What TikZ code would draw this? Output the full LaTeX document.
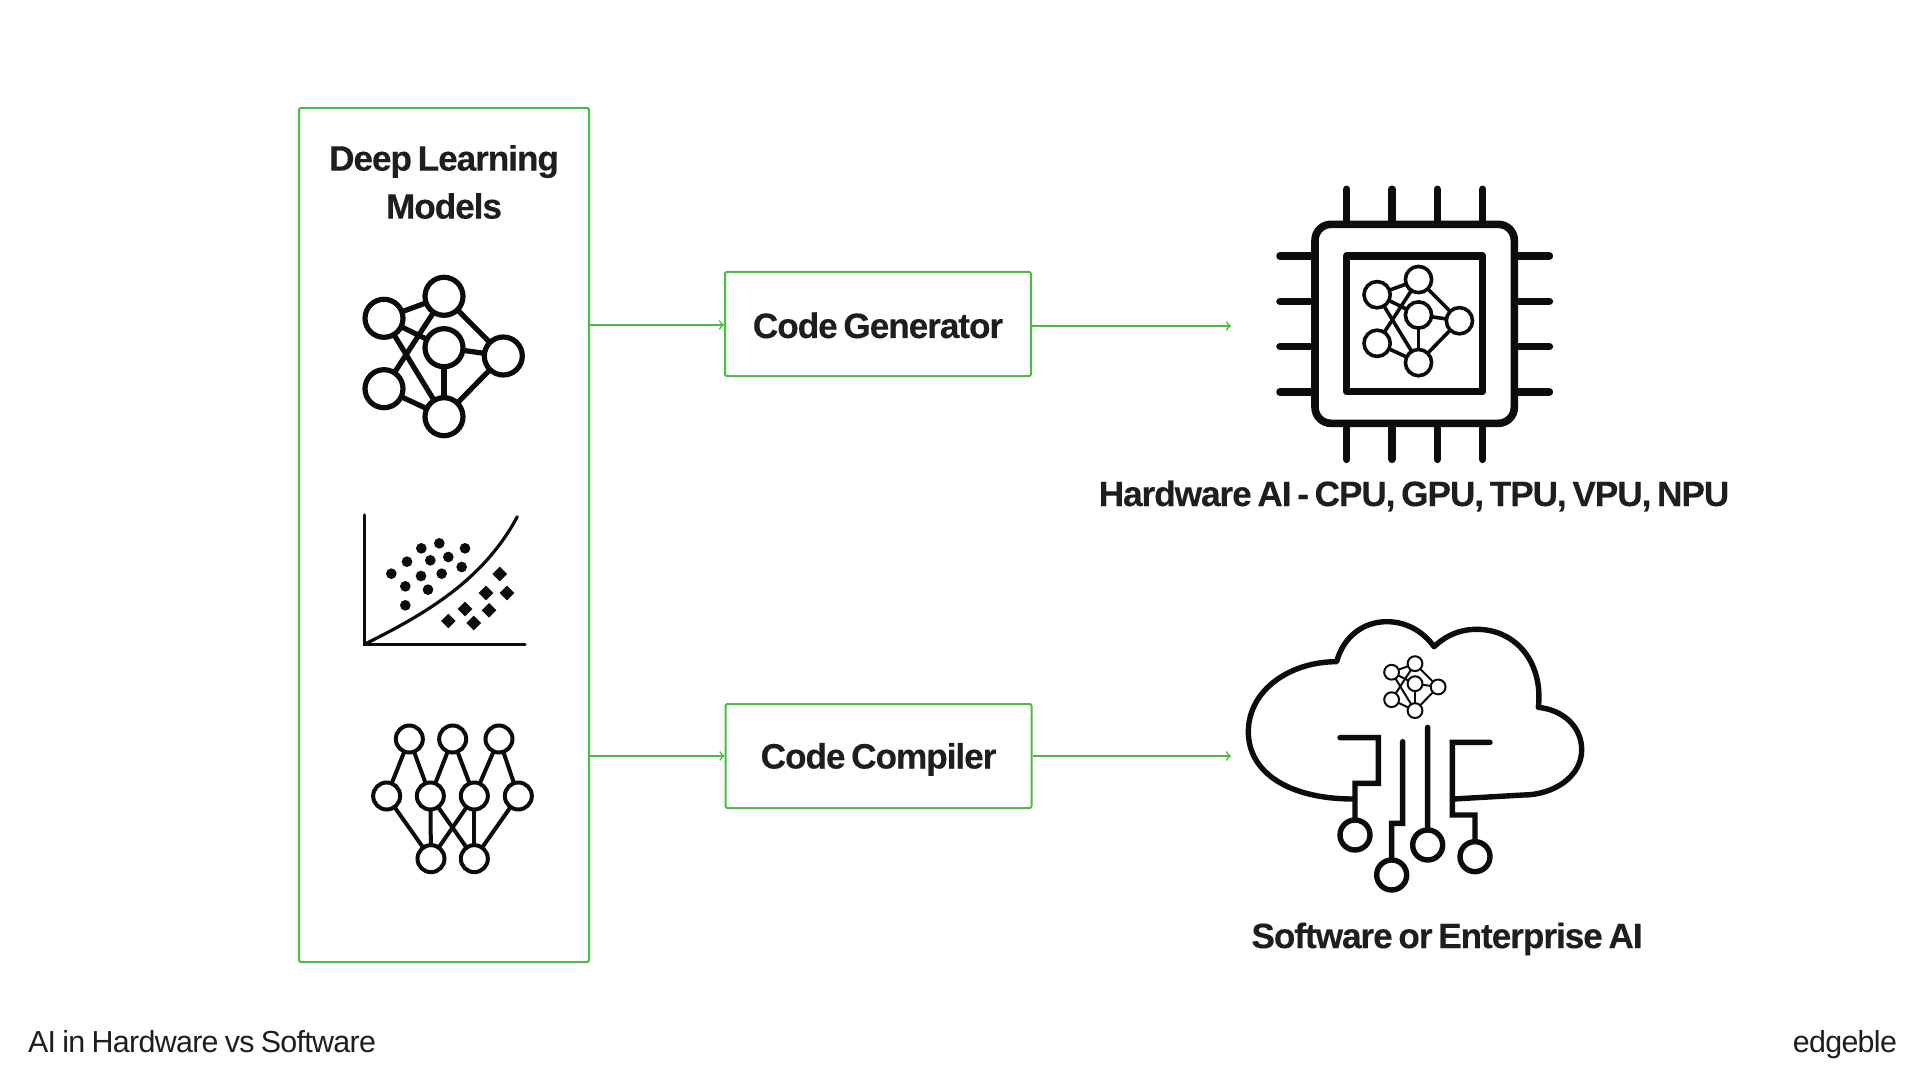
\documentclass[tikz,border=0pt]{standalone}
\usepackage{fontspec}
\setmainfont{Liberation Sans}
\newfontfamily\boldface[LetterSpace=-3, WordSpace=0.65, FakeBold=0.25]{Liberation Sans Bold}
\newfontfamily\plainface[LetterSpace=-2.2, WordSpace=0.8]{Liberation Sans}
\usepackage{xcolor}
\usetikzlibrary{calc, positioning, shapes.geometric}
\definecolor{BoxGreen}{HTML}{4CBB45}
\definecolor{InkDark}{HTML}{1E1E1E}
\definecolor{IconBlack}{HTML}{0C0C0C}

% small network of six circles, used three times
\newcommand{\NetIcon}[5]{%
  \begin{scope}[shift={(#1,#2)}, scale=#3, icon/.style={line width=#4, draw=IconBlack}, ball/.style={circle, draw=IconBlack, fill=white, line width=#4, minimum size=19pt, inner sep=0pt, transform shape}]
    \coordinate (#5la) at (-60,-29.4);
    \coordinate (#5lb) at (-60,41);
    \coordinate (#5t) at (0,-51.4);
    \coordinate (#5c) at (0,0);
    \coordinate (#5r) at (59.3,8.3);
    \coordinate (#5b) at (0,69);
    \foreach \from/\to in {la/t, la/c, la/b, t/r, t/lb, c/r, c/b, r/b, lb/b}
      \draw[icon] (#5\from) -- (#5\to);
    \foreach \n in {la, lb, t, c, r, b}
      \node[ball] (#5\n n) at (#5\n) {};
  \end{scope}}

\begin{document}
\begin{tikzpicture}[
  x=0.5pt, y=-0.5pt,
  box/.style={rectangle, draw=BoxGreen, line width=1pt, inner sep=0pt, rounded corners=1pt},
  arrow/.style={->, >=to, line width=0.8pt, BoxGreen},
  title/.style={font=\fontsize{17.6}{24}\boldface, text=InkDark, align=center},
  footer/.style={font=\fontsize{15.2}{18}\plainface, text=InkDark},
  pin/.style={line width=3.8pt, IconBlack, line cap=round},
  trace/.style={line width=2.7pt, IconBlack, line join=miter}
]
  \useasboundingbox (0,0) rectangle (1920,1080);
  \fill[white] (0,0) rectangle (1920,1080);

  % boxes
  \node[box, minimum width=145pt, minimum height=427pt] (models) at (444,535) {};
  \node[box, title, text height=14pt, text depth=0pt, minimum width=153pt, minimum height=52pt] (generator) at (878,324) {Code Generator};
  \node[box, title, text height=12.5pt, text depth=0pt, minimum width=153pt, minimum height=52pt] (compiler) at (878.5,756) {Code Compiler};
  \coordinate (chipin) at (1231,326);
  \coordinate (cloudin) at (1231,757);

  \draw[arrow] ([yshift=-0.5pt]models.east |- generator) -- ([yshift=-0.5pt]generator.west);
  \draw[arrow] ([yshift=-1pt]generator.east) -- ([yshift=-1pt]generator.east -| chipin);
  \draw[arrow] (models.east |- compiler) -- (compiler.west);
  \draw[arrow] (compiler.east) -- (compiler.east -| cloudin);

  % labels
  \node[title] (modelstitle) at (444,182) {Deep Learning\\Models};
  \node[title] (hwlabel) at (1414,496) {Hardware AI - CPU, GPU, TPU, VPU, NPU};
  \node[title] (swlabel) at (1447,939) {Software or Enterprise AI};
  \node[footer, anchor=base west] (caption) at (21,1052) {AI in Hardware vs Software};
  \node[footer, anchor=base east] (brand) at (1904,1052) {edgeble};

  % first icon
  \NetIcon{444}{347.7}{1}{2.6pt}{one}

  % scatter icon
  \begin{scope}[shift={(340,250)}, scale=1/3]
    \draw[line width=1.6pt, IconBlack, line cap=round] (73,795) -- (73,1183) -- (555,1183);
    \draw[line width=1.6pt, IconBlack, line cap=round] (73,1183) .. controls (260,1090) and (430,990) .. (532,800);
    \foreach \x/\y in {244/895, 298/880, 375/895, 201/935, 271/931, 325/921, 365/951, 154/971, 243/978, 305/971, 196/1009, 264/1019, 196/1066}
      \fill[IconBlack] (\x,\y) circle (16);
    \foreach \x/\y in {479/972, 438/1029, 501/1029, 375/1077, 447/1081, 325/1113, 401/1119}
      \fill[IconBlack] (\x-22,\y) -- (\x,\y-22) -- (\x+22,\y) -- (\x,\y+22) -- cycle;
  \end{scope}

  % third icon
  \begin{scope}[shift={(340,700)}, scale=1/3, ring/.style={circle, draw=IconBlack, fill=white, line width=2pt, inner sep=0pt, minimum size=13.5pt}]
    \foreach \n/\x/\y in {ta/208/117, tb/338/117, tc/477/117, ma/140/288, mb/271/288, mc/403/288, md/535/288, ba/273/476, bb/403/476}
      \coordinate (\n) at (\x,\y);
    \foreach \from/\to in {ta/ma, ta/mb, tb/mb, tb/mc, tc/mc, tc/md, ma/ba, mb/ba, mb/bb, mc/ba, mc/bb, md/bb}
      \draw[line width=2pt, IconBlack] (\from) -- (\to);
    \foreach \n in {ta, tb, tc, ma, mb, mc, md, ba, bb}
      \node[ring] (\n n) at (\n) {};
  \end{scope}

  % chip
  \begin{scope}[shift={(1260,170)}, scale=1/3]
    \foreach \p in {260, 396, 532, 668} {
      \draw[pin] (\p,58) -- (\p,163);
      \draw[pin] (\p,760) -- (\p,868);
    }
    \foreach \p in {258, 394, 530, 666} {
      \draw[pin] (60,\p) -- (165,\p);
      \draw[pin] (763,\p) -- (868,\p);
    }
    \draw[line width=3.8pt, IconBlack, rounded corners=8pt, fill=white] (165,163) rectangle (763,760);
    \draw[line width=3.8pt, IconBlack, line join=round] (260,258) rectangle (668,665);
  \end{scope}
  \NetIcon{1418.5}{315}{0.69}{1.8pt}{two}

  % cloud
  \begin{scope}[shift={(1230,600)}, scale=1/3, socket/.style={circle, draw=IconBlack, fill=white, line width=2.7pt, minimum size=15pt, inner sep=0pt}]
    \draw[line width=2.7pt, IconBlack, line join=round] (370,597) .. controls (180,597) and (55,520) .. (55,395)
      .. controls (55,270) and (180,185) .. (320,185) .. controls (340,110) and (400,65) .. (470,65)
      .. controls (530,65) and (580,95) .. (612,140) .. controls (650,105) and (690,88) .. (740,88)
      .. controls (860,88) and (940,190) .. (925,322) .. controls (1000,330) and (1055,380) .. (1055,450)
      .. controls (1055,530) and (970,585) .. (880,585) -- (670,597);
    \node[socket] (sa) at (375,705) {};
    \node[socket] (sb) at (485,825) {};
    \node[socket] (sc) at (593,735) {};
    \node[socket] (sd) at (735,770) {};
    \coordinate (ta) at (330,413);
    \coordinate (tb) at (518,425);
    \coordinate (tc) at (593,382);
    \coordinate (td) at (780,427);
    \draw[trace, line cap=round] (ta) -- (445,413) -- (445,550) -- (375,550) -- (sa);
    \draw[trace, line cap=round] (tb) -- (518,670) -- (485,670) -- (sb);
    \draw[trace, line cap=round] (tc) -- (sc);
    \draw[trace, line cap=round] (td) -- (667,427) -- (667,645) -- (735,645) -- (sd);
  \end{scope}
  \NetIcon{1415}{683.7}{0.39}{1pt}{three}
\end{tikzpicture}
\end{document}
